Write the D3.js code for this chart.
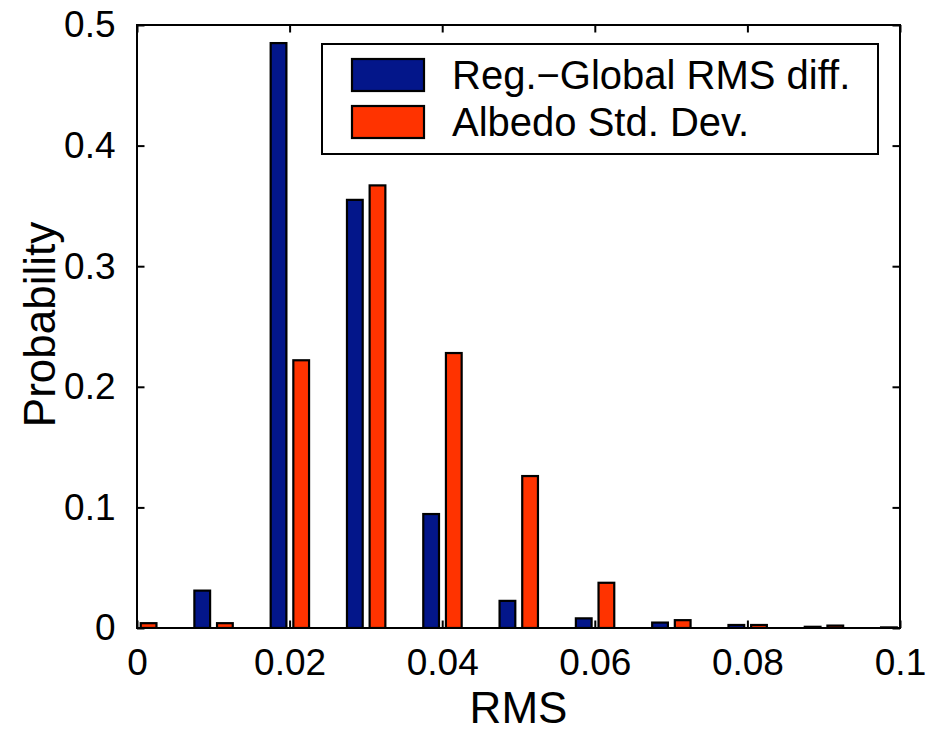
<!DOCTYPE html>
<html>
<head>
<meta charset="utf-8">
<script src="https://cdn.jsdelivr.net/npm/d3@7"></script>
<style>
  html, body { margin: 0; padding: 0; background: #fff; }
  svg { display: block; }
  text { font-family: "Liberation Sans", Arial, Helvetica, sans-serif; fill: #000; }
</style>
</head>
<body>
<svg id="chart" width="945" height="731"></svg>
<script>
// ---- data ----
const binCenters = [0, 0.01, 0.02, 0.03, 0.04, 0.05, 0.06, 0.07, 0.08, 0.09, 0.1];
const regGlobalRMS = [0, 0.031, 0.485, 0.355, 0.0945, 0.0225, 0.008, 0.0045, 0.0025, 0.001, 0.0005];
const albedoStdDev = [0.004, 0.004, 0.222, 0.367, 0.228, 0.126, 0.0375, 0.0065, 0.0025, 0.002, 0];
const seriesNames = ["Reg.\u2212Global RMS diff.", "Albedo Std. Dev."];
const seriesColors = ["#03168a", "#ff3300"];
const xTicks = [0, 0.02, 0.04, 0.06, 0.08, 0.1];
const xTickLabels = ["0", "0.02", "0.04", "0.06", "0.08", "0.1"];
const yTicks = [0, 0.1, 0.2, 0.3, 0.4, 0.5];
const yTickLabels = ["0", "0.1", "0.2", "0.3", "0.4", "0.5"];

// ---- layout ----
const W = 945, H = 731;
const margin = { left: 137, right: 45, top: 25, bottom: 103 };
const svg = d3.select("#chart");
const x = d3.scaleLinear().domain([0, 0.1]).range([margin.left, W - margin.right]);
const y = d3.scaleLinear().domain([0, 0.5]).range([H - margin.bottom, margin.top]);

svg.append("clipPath").attr("id", "plotclip")
  .append("rect")
  .attr("x", x(0)).attr("y", y(0.5))
  .attr("width", x(0.1) - x(0)).attr("height", y(0) - y(0.5));

const series = [regGlobalRMS, albedoStdDev];
const offsets = [-0.00145, 0.00152];   // group offset in data units
const barW = 0.00235;                   // bar width in data units
const sw = 2.2;

const gBars = svg.append("g").attr("clip-path", "url(#plotclip)");
series.forEach((vals, si) => {
  gBars.selectAll(".bar" + si)
    .data(binCenters.map((c, i) => ({ c, v: vals[i] })))
    .enter().append("rect")
    .attr("x", d => x(d.c + offsets[si] - barW / 2) + sw / 2)
    .attr("width", d => x(barW) - x(0) - sw)
    .attr("y", d => y(d.v))
    .attr("height", d => Math.max(0, y(0) - y(d.v)))
    .attr("fill", seriesColors[si])
    .attr("stroke", "#000")
    .attr("stroke-width", sw);
});

// ---- axes (MATLAB-like box with inward ticks) ----
const tickLen = 7.5;
const fontSize = 37;
const labelSize = 44;

const xAxisB = d3.axisBottom(x).tickValues(xTicks).tickSizeInner(-tickLen).tickSizeOuter(0)
  .tickPadding(tickLen + 13).tickFormat((d, i) => xTickLabels[i]);
const gxb = svg.append("g").attr("transform", `translate(0,${y(0)})`).call(xAxisB);
gxb.select(".domain").remove();
gxb.selectAll("line").attr("stroke", "#000").attr("stroke-width", 2);
gxb.selectAll("text").attr("font-size", fontSize).attr("font-family", "Liberation Sans, Arial, sans-serif");

const xAxisT = d3.axisTop(x).tickValues(xTicks).tickSizeInner(-tickLen).tickSizeOuter(0).tickFormat("");
const gxt = svg.append("g").attr("transform", `translate(0,${y(0.5)})`).call(xAxisT);
gxt.select(".domain").remove();
gxt.selectAll("line").attr("stroke", "#000").attr("stroke-width", 2);

const yAxisL = d3.axisLeft(y).tickValues(yTicks).tickSizeInner(-tickLen).tickSizeOuter(0)
  .tickPadding(tickLen + 14).tickFormat((d, i) => yTickLabels[i]);
const gyl = svg.append("g").attr("transform", `translate(${x(0)},0)`).call(yAxisL);
gyl.select(".domain").remove();
gyl.selectAll("line").attr("stroke", "#000").attr("stroke-width", 2);
gyl.selectAll("text").attr("font-size", fontSize).attr("font-family", "Liberation Sans, Arial, sans-serif");

const yAxisR = d3.axisRight(y).tickValues(yTicks).tickSizeInner(-tickLen).tickSizeOuter(0).tickFormat("");
const gyr = svg.append("g").attr("transform", `translate(${x(0.1)},0)`).call(yAxisR);
gyr.select(".domain").remove();
gyr.selectAll("line").attr("stroke", "#000").attr("stroke-width", 2);

// box
svg.append("rect")
  .attr("x", x(0)).attr("y", y(0.5))
  .attr("width", x(0.1) - x(0)).attr("height", y(0) - y(0.5))
  .attr("fill", "none").attr("stroke", "#000").attr("stroke-width", 2);

// axis titles
svg.append("text")
  .attr("x", (x(0) + x(0.1)) / 2).attr("y", 723)
  .attr("text-anchor", "middle").attr("font-size", labelSize)
  .text("RMS");
svg.append("text")
  .attr("transform", `translate(55,${(y(0) + y(0.5)) / 2 - 2}) rotate(-90)`)
  .attr("text-anchor", "middle").attr("font-size", labelSize)
  .text("Probability");

// ---- legend ----
const lg = svg.append("g");
lg.append("rect")
  .attr("x", 322).attr("y", 44).attr("width", 556).attr("height", 110)
  .attr("fill", "#fff").attr("stroke", "#000").attr("stroke-width", 2);
seriesNames.forEach((name, i) => {
  const cy = 75 + i * 47;
  lg.append("rect")
    .attr("x", 352).attr("y", cy - 16).attr("width", 72).attr("height", 32)
    .attr("fill", seriesColors[i]).attr("stroke", "#000").attr("stroke-width", 2.2);
  lg.append("text")
    .attr("x", 452).attr("y", cy + 14)
    .attr("font-size", 40)
    .text(name);
});
</script>
</body>
</html>
